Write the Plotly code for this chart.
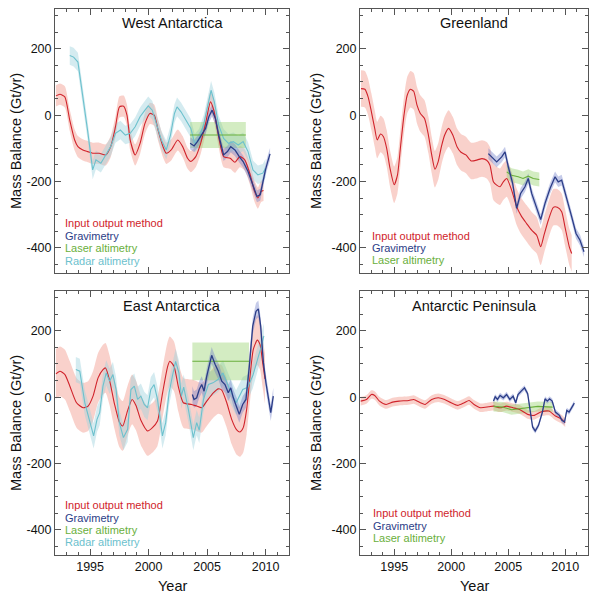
import numpy as np
import plotly.graph_objects as go

# ---------------- DATA ----------------
# West Antarctica
wa_io_x = [1992.08, 1992.42, 1992.84, 1993.26, 1993.68, 1993.96, 1994.38, 1994.80, 1995.22, 1995.78,
           1996.34, 1996.76, 1997.17, 1997.51, 1997.87, 1998.15, 1998.43, 1998.85, 1999.27, 1999.69,
           2000.11, 2000.48, 2000.81, 2001.23, 2001.51, 2001.93, 2002.49, 2002.91, 2003.33, 2003.61,
           2004.03, 2004.45, 2004.87, 2005.29, 2005.57, 2005.99, 2006.41, 2006.97, 2007.38, 2007.80,
           2008.22, 2008.64, 2009.06, 2009.34, 2009.62, 2009.82]
wa_io_y = [58, 63, 55, -15, -75, -95, -105, -110, -115, -115,
           -120, -95, -35, 25, 27, 0, -75, -120, -85, -25,
           5, 0, -45, -95, -115, -105, -75, -95, -130, -140,
           -125, -85, -25, 40, 15, -65, -125, -130, -142, -125,
           -135, -175, -230, -250, -230, -227]
wa_io_err = 32
wa_ra_x = [1993.26, 1993.59, 1993.96, 1994.38, 1994.80, 1995.22, 1995.50, 1995.92, 1996.34, 1996.76,
           1997.17, 1997.59, 1998.01, 1998.43, 1998.85, 1999.27, 1999.69, 1999.97, 2000.31, 2000.67,
           2001.09, 2001.51, 2001.87, 2002.21, 2002.43, 2002.77, 2003.19, 2003.61, 2003.94, 2004.31,
           2004.73, 2005.06, 2005.34, 2005.62, 2005.99, 2006.41, 2006.83, 2007.24, 2007.66, 2008.08,
           2008.50, 2008.92, 2009.34, 2009.76, 2009.99]
wa_ra_y = [180, 175, 160, 60, -50, -165, -135, -145, -120, -95,
           -55, -45, -60, -55, -35, -5, 15, 28, 15, -25,
           -75, -105, -60, 5, 25, 10, -15, -40, -85, -70,
           -25, 30, 75, 40, -30, -70, -85, -80, -90, -80,
           -110, -165, -180, -175, -160]
wa_ra_err = 28
wa_gr_x = [2003.55, 2003.89, 2004.17, 2004.50, 2004.87, 2005.15, 2005.43, 2005.71, 2005.99, 2006.41,
           2006.74, 2007.02, 2007.38, 2007.75, 2008.08, 2008.50, 2008.92, 2009.26, 2009.54, 2009.76,
           2009.99, 2010.18, 2010.38]
wa_gr_y = [-85, -93, -80, -60, -40, -5, 15, -10, -60, -120,
           -110, -95, -105, -125, -140, -170, -215, -245, -240, -200,
           -165, -140, -117]
wa_gr_err = 18
wa_la_x = [2003.55, 2008.31]
wa_la_y = [-60, -60]
wa_la_err = 39

# Greenland
gl_io_x = [1992.09, 1992.43, 1992.71, 1993.00, 1993.29, 1993.51, 1993.80, 1994.06, 1994.34, 1994.63,
           1995.00, 1995.29, 1995.57, 1995.86, 1996.14, 1996.43, 1996.71, 1997.00, 1997.29, 1997.66,
           1998.00, 1998.29, 1998.57, 1998.86, 1999.14, 1999.43, 1999.77, 2000.14, 2000.51, 2000.86,
           2001.29, 2001.75, 2002.30, 2002.70, 2003.11, 2003.40, 2003.70, 2003.99, 2004.28, 2004.57,
           2004.87, 2005.30, 2005.74, 2006.18, 2006.62, 2007.06, 2007.50, 2007.85, 2008.14, 2008.52,
           2008.96, 2009.31, 2009.69, 2009.98, 2010.36, 2010.57]
gl_io_y = [80, 78, 55, 10, -40, -75, -57, -65, -100, -160,
           -210, -180, -90, 0, 60, 78, 72, 30, 5, -10,
           -60, -120, -163, -140, -95, -60, -40, -60, -95, -112,
           -120, -138, -135, -131, -136, -151, -201, -211, -216, -201,
           -191, -226, -276, -306, -327, -347, -362, -397, -362, -317,
           -278, -278, -291, -337, -397, -417]
gl_io_err = 55
gl_gr_x = [2003.26, 2003.55, 2003.99, 2004.43, 2004.72, 2005.01, 2005.39, 2005.74, 2006.09, 2006.47,
           2006.76, 2007.06, 2007.50, 2007.85, 2008.23, 2008.67, 2009.11, 2009.39, 2009.69, 2010.13,
           2010.57, 2010.95, 2011.30, 2011.65]
gl_gr_y = [-116, -126, -141, -126, -111, -156, -206, -281, -236, -216,
           -191, -236, -281, -315, -266, -221, -186, -201, -196, -256,
           -307, -357, -377, -412]
gl_gr_err = 16
gl_la_x = [2004.87, 2005.30, 2005.88, 2006.30, 2006.76, 2007.20, 2007.73]
gl_la_y = [-171, -181, -186, -191, -184, -191, -194]
gl_la_err = 21

# East Antarctica
ea_io_x = [1992.08, 1992.42, 1992.85, 1993.27, 1993.84, 1994.40, 1994.83, 1995.25, 1995.68, 1996.10,
           1996.32, 1996.67, 1997.08, 1997.50, 1997.79, 1998.21, 1998.59, 1998.92, 1999.34, 1999.91,
           2000.33, 2000.76, 2001.18, 2001.61, 2001.81, 2002.17, 2002.55, 2002.97, 2003.68, 2004.11,
           2004.54, 2004.97, 2005.53, 2005.96, 2006.25, 2006.68, 2007.10, 2007.53, 2007.81, 2008.09,
           2008.38, 2008.67, 2008.95, 2009.29, 2009.52, 2009.75, 2009.95]
ea_io_y = [70, 78, 68, 33, -17, -32, -27, 3, 58, 83,
           88, 50, -20, -75, -87, -40, -7, -25, -70, -102,
           -92, -72, 10, 90, 108, 93, 30, -17, -22, -27,
           -32, -12, 13, 25, 21, -17, -67, -99, -105, -92,
           -37, 63, 144, 172, 159, 104, 55]
ea_io_err = 75
ea_ra_x = [1993.78, 1994.12, 1994.55, 1994.97, 1995.30, 1995.59, 1995.82, 1996.10, 1996.38, 1996.67,
           1996.95, 1997.22, 1997.50, 1997.85, 1998.21, 1998.49, 1998.78, 1999.06, 1999.34, 1999.63,
           1999.91, 2000.19, 2000.47, 2000.76, 2001.18, 2001.46, 2001.75, 2002.03, 2002.31, 2002.59,
           2002.80, 2003.00, 2003.40, 2003.82, 2004.11, 2004.33, 2004.69, 2005.11, 2005.50, 2005.93,
           2006.36, 2006.93, 2007.48, 2008.05, 2008.48, 2008.91, 2009.33, 2009.61, 2009.85]
ea_ra_y = [83, 78, -17, -77, -117, -67, -47, 33, 73, 48,
           68, 23, -77, -122, -97, 23, 33, -7, 3, -22,
           -32, 23, 38, -7, -117, -77, 13, 63, 108, 73,
           3, 30, -37, -122, -77, -100, -7, 38, 43, 53,
           73, 23, -17, 23, 30, 65, 115, 150, 185]
ea_ra_err = 38
ea_gr_x = [2003.74, 2003.88, 2004.11, 2004.33, 2004.54, 2004.74, 2004.97, 2005.19, 2005.39, 2005.68,
           2005.96, 2006.25, 2006.53, 2006.81, 2007.02, 2007.24, 2007.53, 2007.75, 2008.04, 2008.32,
           2008.61, 2008.90, 2009.18, 2009.38, 2009.58, 2009.81, 2010.03, 2010.23, 2010.44, 2010.66]
ea_gr_y = [8, -7, -2, 23, 38, 18, 63, 99, 126, 99,
           78, 48, 38, 13, 28, -2, -27, -52, -22, -7,
           93, 214, 259, 266, 214, 104, 43, -7, -47, 3]
ea_gr_err = 25
ea_la_x = [2003.74, 2008.58]
ea_la_y = [108, 108]
ea_la_err = 57

# Antarctic Peninsula
ap_io_x = [1992.06, 1992.57, 1993.00, 1993.29, 1993.71, 1994.29, 1994.86, 1995.43, 1996.29, 1996.71,
           1997.29, 1997.71, 1998.29, 1998.86, 1999.43, 2000.00, 2000.57, 2001.14, 2001.57, 2002.00,
           2002.57, 2003.29, 2003.71, 2004.29, 2004.86, 2005.43, 2006.00, 2006.71, 2007.29, 2007.86,
           2008.57, 2009.14, 2009.71, 2010.00]
ap_io_y = [-12, -7, 8, 5, -12, -22, -15, -12, -10, -7,
           -17, -22, -7, -2, -7, -17, -25, -17, -10, -22,
           -32, -29, -27, -32, -27, -32, -37, -52, -55, -45,
           -42, -57, -67, -77]
ap_io_err = 13
ap_gr_x = [2003.71, 2003.86, 2004.06, 2004.29, 2004.57, 2004.86, 2005.14, 2005.43, 2005.66, 2005.86,
           2006.14, 2006.43, 2006.71, 2006.91, 2007.14, 2007.37, 2007.66, 2008.00, 2008.23, 2008.43,
           2008.63, 2008.86, 2009.14, 2009.49, 2009.71, 2009.94, 2010.14, 2010.34, 2010.57, 2010.80]
ap_gr_y = [-12, 1, -7, 5, -2, 8, -7, 3, -17, 8,
           18, 28, 10, -40, -90, -102, -85, -45, -5, -12,
           -5, -12, -45, -55, -70, -75, -40, -45, -30, -18]
ap_gr_err = 8
ap_la_x = [2003.71, 2004.50, 2005.30, 2006.00, 2006.80, 2007.60, 2008.90]
ap_la_y = [-28, -30, -38, -35, -30, -28, -30]
ap_la_err = 15

panel_titles = ["West Antarctica", "Greenland", "East Antarctica", "Antarctic Peninsula"]
legend_labels_4 = ["Input output method", "Gravimetry", "Laser altimetry", "Radar altimetry"]
legend_labels_3 = ["Input output method", "Gravimetry", "Laser altimetry"]
x_tickvals = [1995, 2000, 2005, 2010]
x_ticktext = ["1995", "2000", "2005", "2010"]
y_tickvals = [-400, -200, 0, 200]
y_ticktext = ["-400", "-200", "0", "200"]
y_title = "Mass Balance (Gt/yr)"
x_title = "Year"

# ---------------- STYLE ----------------
FONT = "Liberation Sans, Arial, Helvetica, sans-serif"
C_IO, B_IO = "#d0232b", "rgba(240,140,125,0.40)"
C_GR, B_GR = "#2b3d87", "rgba(110,125,200,0.40)"
C_LA, B_LA = "#6aaf3c", "rgba(150,210,110,0.42)"
C_RA, B_RA = "#6cc1cd", "rgba(160,210,222,0.45)"

fig = go.Figure()

def band(xs, ys, err, fillc, ax, shape="spline"):
    xs = np.asarray(xs, float)
    ys = np.asarray(ys, float)
    fig.add_trace(go.Scatter(x=xs, y=ys - err, mode="lines", line=dict(width=0, shape=shape, smoothing=0.6),
                             hoverinfo="skip", showlegend=False, xaxis="x" + ax, yaxis="y" + ax))
    fig.add_trace(go.Scatter(x=xs, y=ys + err, mode="lines", line=dict(width=0, shape=shape, smoothing=0.6),
                             fill="tonexty", fillcolor=fillc, hoverinfo="skip", showlegend=False,
                             xaxis="x" + ax, yaxis="y" + ax))

def line(xs, ys, col, ax, w=1.1, shape="spline"):
    fig.add_trace(go.Scatter(x=xs, y=ys, mode="lines", line=dict(color=col, width=w, shape=shape, smoothing=0.6),
                             showlegend=False, xaxis="x" + ax, yaxis="y" + ax))

panels = [
    ("", (wa_io_x, wa_io_y, wa_io_err), (wa_gr_x, wa_gr_y, wa_gr_err), (wa_la_x, wa_la_y, wa_la_err), (wa_ra_x, wa_ra_y, wa_ra_err)),
    ("2", (gl_io_x, gl_io_y, gl_io_err), (gl_gr_x, gl_gr_y, gl_gr_err), (gl_la_x, gl_la_y, gl_la_err), None),
    ("3", (ea_io_x, ea_io_y, ea_io_err), (ea_gr_x, ea_gr_y, ea_gr_err), (ea_la_x, ea_la_y, ea_la_err), (ea_ra_x, ea_ra_y, ea_ra_err)),
    ("4", (ap_io_x, ap_io_y, ap_io_err), (ap_gr_x, ap_gr_y, ap_gr_err), (ap_la_x, ap_la_y, ap_la_err), None),
]

for ax, io, gr, la, ra in panels:
    band(*io, B_IO, ax)
    if ra:
        band(*ra, B_RA, ax, shape="linear")
    band(*la, B_LA, ax, shape="linear")
    band(*gr, B_GR, ax, shape="linear")
    line(io[0], io[1], C_IO, ax)
    if ra:
        line(ra[0], ra[1], C_RA, ax, shape="linear")
    line(la[0], la[1], C_LA, ax, shape="linear")
    line(gr[0], gr[1], C_GR, ax, w=1.3, shape="linear")

W, H = 600, 598
xd_left = [55 / W, 289 / W]
xd_right = [360 / W, 588 / W]
yd_top = [1 - 273 / H, 1 - 9 / H]
yd_bot = [1 - 555 / H, 1 - 291 / H]

def xaxis(dom, anchor, labels):
    return dict(domain=dom, anchor=anchor, range=[1992, 2012], showline=True, linecolor="#555", linewidth=1,
                mirror="allticks", ticks="inside", ticklen=6, tickcolor="#555", tickwidth=1,
                tickvals=x_tickvals, ticktext=x_ticktext, showticklabels=labels,
                tickfont=dict(family=FONT, size=12.5, color="#111"),
                minor=dict(ticks="inside", ticklen=3, dtick=1, tick0=1992, tickcolor="#555", showgrid=False),
                showgrid=False, zeroline=False, fixedrange=True)

def yaxis(dom, anchor):
    return dict(domain=dom, anchor=anchor, range=[-476, 320], showline=True, linecolor="#555", linewidth=1,
                mirror="allticks", ticks="inside", ticklen=6, tickcolor="#555", tickwidth=1,
                tickvals=y_tickvals, ticktext=y_ticktext,
                tickfont=dict(family=FONT, size=12.5, color="#111"),
                minor=dict(ticks="inside", ticklen=3, dtick=50, tick0=0, tickcolor="#555", showgrid=False),
                showgrid=False, zeroline=False, fixedrange=True)

fig.update_layout(
    width=W, height=H, margin=dict(l=0, r=0, t=0, b=0),
    paper_bgcolor="white", plot_bgcolor="white", showlegend=False,
    xaxis=xaxis(xd_left, "y", False), yaxis=yaxis(yd_top, "x"),
    xaxis2=xaxis(xd_right, "y2", False), yaxis2=yaxis(yd_top, "x2"),
    xaxis3=xaxis(xd_left, "y3", True), yaxis3=yaxis(yd_bot, "x3"),
    xaxis4=xaxis(xd_right, "y4", True), yaxis4=yaxis(yd_bot, "x4"),
)

ann = []
title_pos = [((55 + 289) / 2, 23), ((360 + 588) / 2, 23), ((55 + 289) / 2, 306), ((360 + 588) / 2, 306)]
for t, (px, py) in zip(panel_titles, title_pos):
    ann.append(dict(text=t, x=px / W, y=1 - py / H, xref="paper", yref="paper", showarrow=False,
                    xanchor="center", yanchor="middle", font=dict(family=FONT, size=14.5, color="#111")))
for px, py in [(16, 141), (316, 141), (16, 423), (316, 423)]:
    ann.append(dict(text=y_title, x=px / W, y=1 - py / H, xref="paper", yref="paper", showarrow=False,
                    textangle=-90, xanchor="center", yanchor="middle", font=dict(family=FONT, size=14.5, color="#111")))
for px in [(55 + 289) / 2, (360 + 588) / 2]:
    ann.append(dict(text=x_title, x=px / W, y=1 - 586 / H, xref="paper", yref="paper", showarrow=False,
                    xanchor="center", yanchor="middle", font=dict(family=FONT, size=14.5, color="#111")))
cols4 = [C_IO, C_GR, C_LA, C_RA]
leg_specs = [
    (63, [223, 236, 248, 261], legend_labels_4),
    (370, [236, 248, 260], legend_labels_3),
    (63, [505, 518, 530, 542], legend_labels_4),
    (371, [513, 526, 538], legend_labels_3),
]
for px, pys, labels in leg_specs:
    for lab, py, c in zip(labels, pys, cols4):
        ann.append(dict(text=lab, x=px / W, y=1 - py / H, xref="paper", yref="paper", showarrow=False,
                        xanchor="left", yanchor="middle", font=dict(family=FONT, size=11, color=c)))
fig.update_layout(annotations=ann)

fig.write_html("out.html", config={"displayModeBar": False},
               post_script="document.body.style.margin='0px';document.body.style.overflow='hidden';")
